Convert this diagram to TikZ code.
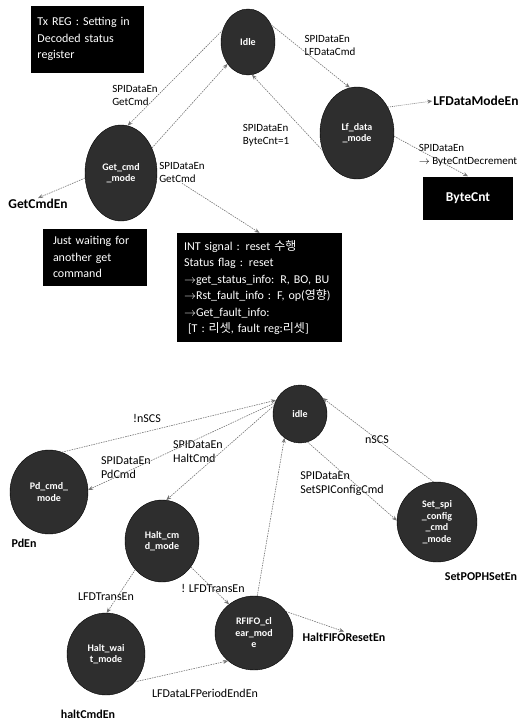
\documentclass[tikz,border=0pt]{standalone}
\usepackage{fontspec}
\setmainfont{Carlito}
\newfontfamily\kor{Noto Sans CJK KR}
\usetikzlibrary{shapes.geometric, arrows.meta}

\tikzset{
  state/.style={ellipse, draw=black, fill=black!82, text=white, align=center,
    inner sep=0pt, font=\fontsize{10}{11.5}\selectfont\bfseries},
  note/.style={fill=black, text=white, align=left, inner xsep=7pt,
    font=\fontsize{12}{16.5}\selectfont},
  lbl/.style={align=left, inner sep=1pt, font=\fontsize{11}{13}\selectfont},
  lblb/.style={align=left, inner sep=1pt, font=\fontsize{12}{14}\selectfont},
  sigbig/.style={inner sep=1pt, font=\fontsize{13.5}{16}\selectfont\bfseries},
  sig/.style={inner sep=1pt, font=\fontsize{12}{14}\selectfont\bfseries},
  trans/.style={draw=black!55, line width=0.6pt, dash pattern=on 1.5pt off 1pt,
    -{Stealth[length=5pt,width=4pt]}}
}

\begin{document}
\begin{tikzpicture}[x=1pt,y=-1pt]
      \useasboundingbox (0,0) rectangle (522,721);
      \node[note, text width=99pt, minimum height=67pt] (txreg) at (87,39)
      {Tx REG : Setting in\\Decoded status\\register};
      \node[state, minimum width=54pt, minimum height=66pt] (idle) at (248,42) {Idle};
      \node[state, minimum width=74pt, minimum height=92pt] (lfdata) at (357,133) {Lf\_data\\\_mode};
      \node[state, minimum width=72pt, minimum height=96pt] (getcmd) at (121,173) {Get\_cmd\\\_mode};
      \node[sigbig] (getcmden) at (38,204) {GetCmdEn};
      \node[sigbig] (lfmode) at (476,101) {LFDataModeEn};
      \node[note, align=center, minimum width=90pt, minimum height=43pt,
        font=\fontsize{13.5}{16}\selectfont\bfseries] (bytecnt) at (468,198) {ByteCnt};
      \node[note, text width=84pt, inner xsep=10pt, minimum height=57pt] (waiting) at (95,257)
      {Just waiting for\\another get\\command};
      \node[note, text width=151pt, minimum height=109pt] (intsig) at (259.5,287.5)
      {INT signal : reset {\kor 수행}\\
        Status flag : reset\\
        $\rightarrow$get\_status\_info: R, BO, BU\\
        $\rightarrow$Rst\_fault\_info : F, op({\kor 영향})\\
        $\rightarrow$Get\_fault\_info:\\
        \hspace*{4pt}[T : {\kor 리셋}, fault reg:{\kor 리셋}]};
      \node[lbl] (gcone) at (135,95) {SPIDataEn\\GetCmd};
      \node[lbl] (gctwo) at (182,172) {SPIDataEn\\GetCmd};
      \node[lbl] (lfcmd) at (330,45) {SPIDataEn\\LFDataCmd};
      \node[lbl] (bcone) at (266,135) {SPIDataEn\\ByteCnt=1};
      \node[lbl] (bcdec) at (468,155) {SPIDataEn\\$\rightarrow$ ByteCntDecrement};
      \draw[trans] (idle.155) -- (getcmd.82);
      \draw[trans] (getcmd.39) -- (idle.227);
      \draw[trans] (gctwo.south) -- (intsig.north);
      \draw[trans] (idle.36) -- (lfdata.99);
      \draw[trans] (lfdata.207) -- (idle.277);
      \draw[trans, dash pattern=on 1pt off 1pt] (lfdata.40) -- (lfmode.west);
      \draw[trans] (lfdata.355) -- (bytecnt.north);
      \draw[trans] (getcmd.188) -- (getcmden.north);
      \node[state, minimum width=54pt, minimum height=58pt] (idleb) at (300,414) {idle};
      \node[state, minimum width=78pt, minimum height=84pt] (pdcmd) at (49,492) {Pd\_cmd\_\\mode};
      \node[state, minimum width=74pt, minimum height=82pt] (haltcmd) at (162,541) {Halt\_cm\\d\_mode};
      \node[state, minimum width=78pt, minimum height=82pt] (haltwait) at (106,654) {Halt\_wai\\t\_mode};
      \node[state, minimum width=78pt, minimum height=74pt] (rfifo) at (254,633) {RFIFO\_cl\\ear\_mod\\e};
      \node[state, minimum width=80pt, minimum height=80pt] (setspi) at (437,522)
      {Set\_spi\\\_config\\\_cmd\\\_mode};
      \node[sig] (pden) at (24,543) {PdEn};
      \node[sig] (haltcmden) at (88,714) {haltCmdEn};
      \node[sig] (fiforst) at (344,637) {HaltFIFOResetEn};
      \node[sig] (popset) at (481,577) {SetPOPHSetEn};
      \node[lblb] (nscsa) at (147,418) {!nSCS};
      \node[lblb] (pdlbl) at (126,468) {SPIDataEn\\PdCmd};
      \node[lblb] (haltlbl) at (198,452) {SPIDataEn\\HaltCmd};
      \node[lblb] (cfglbl) at (342,484) {SPIDataEn\\SetSPIConfigCmd};
      \node[lblb] (nscsb) at (377,440) {nSCS};
      \node[lblb] (transa) at (106,597) {LFDTransEn};
      \node[lblb] (transb) at (213,588) {! LFDTransEn};
      \node[lblb] (period) at (205,693) {LFDataLFPeriodEndEn};
      \draw[trans] (pdcmd.72) -- (idleb.150);
      \draw[trans] (idleb.156) -- (pdcmd.3);
      \draw[trans] (idleb.162) -- (haltcmd.84);
      \draw[trans] (haltcmd.227) -- (haltwait.89);
      \draw[trans] (haltcmd.318) -- (rfifo.131);
      \draw[trans] (haltwait.316) -- (rfifo.227);
      \draw[trans] (rfifo.85) -- (idleb.237);
      \draw[trans] (idleb.285) -- (setspi.178);
      \draw[trans] (setspi.95) -- (idleb.35);
      \draw[trans] (rfifo.34) -- (fiforst.north);
    \end{tikzpicture}
\end{document}
